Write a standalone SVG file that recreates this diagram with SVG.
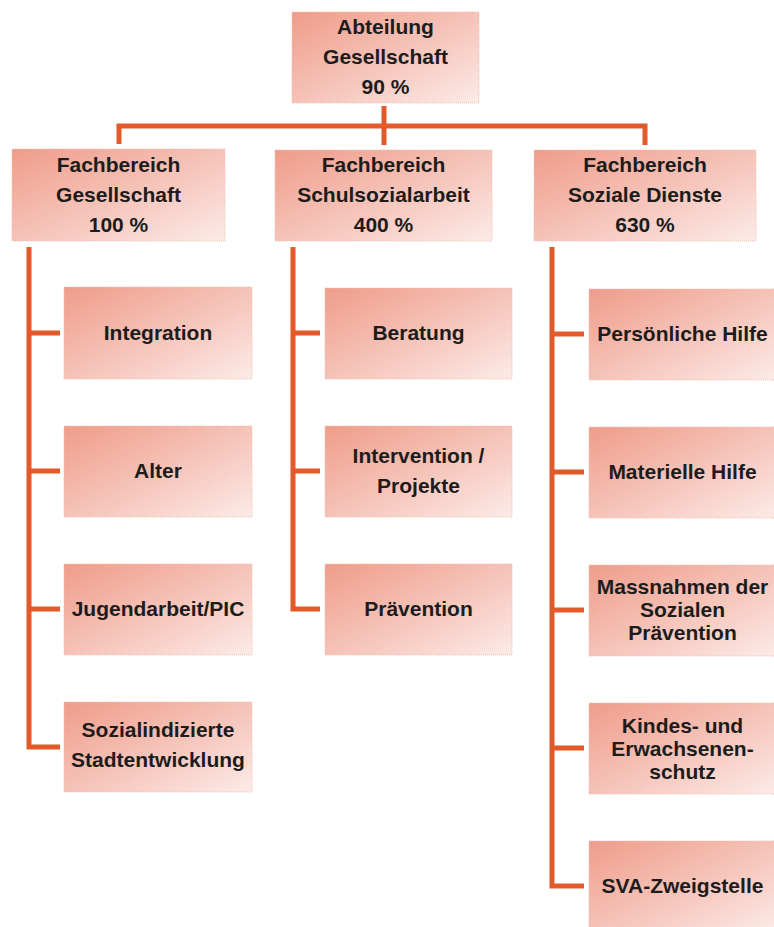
<svg xmlns="http://www.w3.org/2000/svg" width="774" height="927" viewBox="0 0 774 927">
<defs>
<linearGradient id="g" x1="0" y1="0" x2="1" y2="1">
<stop offset="0" stop-color="#ef9c8a"/>
<stop offset="0.55" stop-color="#f6c6bc"/>
<stop offset="1" stop-color="#fcebe7"/>
</linearGradient>
</defs>
<style>
.box{fill:url(#g);stroke:#f1c0b4;stroke-width:1;stroke-dasharray:1 1}
.t{font-family:"Liberation Sans",Arial,sans-serif;font-weight:bold;font-size:21px;fill:#1c1c1c;text-anchor:middle}
.c{fill:none;stroke:#e2592a;stroke-width:5;stroke-linejoin:miter;stroke-linecap:butt}
</style>
<rect width="774" height="927" fill="#ffffff"/>
<g id="connectors">
<path class="c" d="M384 106V145"/>
<path class="c" d="M119 144V126H645V145"/>
<path class="c" d="M29 247V747H60"/>
<path class="c" d="M29 333H60M29 471H60M29 609H60"/>
<path class="c" d="M293 247V609H320"/>
<path class="c" d="M293 333H320M293 471H320"/>
<path class="c" d="M552 247V886H584"/>
<path class="c" d="M552 334H584M552 472H584M552 610H584M552 748H584"/>
</g>
<g id="abteilung">
<rect class="box" x="292" y="12" width="187" height="91"/>
<text class="t" x="385.5" y="34">Abteilung</text>
<text class="t" x="385.5" y="64">Gesellschaft</text>
<text class="t" x="385.5" y="94">90 %</text>
</g>
<g id="fb-gesellschaft">
<rect class="box" x="12" y="149" width="213" height="92"/>
<text class="t" x="118.5" y="172">Fachbereich</text>
<text class="t" x="118.5" y="202">Gesellschaft</text>
<text class="t" x="118.5" y="232">100 %</text>
</g>
<g id="fb-schulsozialarbeit">
<rect class="box" x="275" y="150" width="217" height="91"/>
<text class="t" x="383.5" y="172">Fachbereich</text>
<text class="t" x="383.5" y="202">Schulsozialarbeit</text>
<text class="t" x="383.5" y="232">400 %</text>
</g>
<g id="fb-soziale-dienste">
<rect class="box" x="534" y="150" width="222" height="91"/>
<text class="t" x="645" y="172">Fachbereich</text>
<text class="t" x="645" y="202">Soziale Dienste</text>
<text class="t" x="645" y="232">630 %</text>
</g>
<g id="integration">
<rect class="box" x="64" y="287" width="188" height="92"/>
<text class="t" x="158" y="340">Integration</text>
</g>
<g id="alter">
<rect class="box" x="64" y="426" width="188" height="91"/>
<text class="t" x="158" y="478">Alter</text>
</g>
<g id="jugendarbeit">
<rect class="box" x="64" y="564" width="188" height="91"/>
<text class="t" x="158" y="616">Jugendarbeit/PIC</text>
</g>
<g id="sozialindizierte">
<rect class="box" x="64" y="702" width="188" height="90"/>
<text class="t" x="158" y="737">Sozialindizierte</text>
<text class="t" x="158" y="767">Stadtentwicklung</text>
</g>
<g id="beratung">
<rect class="box" x="325" y="288" width="187" height="91"/>
<text class="t" x="418.5" y="340">Beratung</text>
</g>
<g id="intervention">
<rect class="box" x="325" y="426" width="187" height="91"/>
<text class="t" x="418.5" y="463">Intervention /</text>
<text class="t" x="418.5" y="493">Projekte</text>
</g>
<g id="praevention">
<rect class="box" x="325" y="564" width="187" height="91"/>
<text class="t" x="418.5" y="616">Prävention</text>
</g>
<g id="persoenliche-hilfe">
<rect class="box" x="589" y="289" width="187" height="91"/>
<text class="t" x="682.5" y="341">Persönliche Hilfe</text>
</g>
<g id="materielle-hilfe">
<rect class="box" x="589" y="427" width="187" height="91"/>
<text class="t" x="682.5" y="479">Materielle Hilfe</text>
</g>
<g id="massnahmen">
<rect class="box" x="589" y="565" width="187" height="91"/>
<text class="t" x="682.5" y="594">Massnahmen der</text>
<text class="t" x="682.5" y="617">Sozialen</text>
<text class="t" x="682.5" y="640">Prävention</text>
</g>
<g id="kindesschutz">
<rect class="box" x="589" y="703" width="187" height="91"/>
<text class="t" x="682.5" y="733">Kindes- und</text>
<text class="t" x="682.5" y="756">Erwachsenen-</text>
<text class="t" x="682.5" y="779">schutz</text>
</g>
<g id="sva">
<rect class="box" x="589" y="841" width="187" height="91"/>
<text class="t" x="682.5" y="893">SVA-Zweigstelle</text>
</g>
</svg>
